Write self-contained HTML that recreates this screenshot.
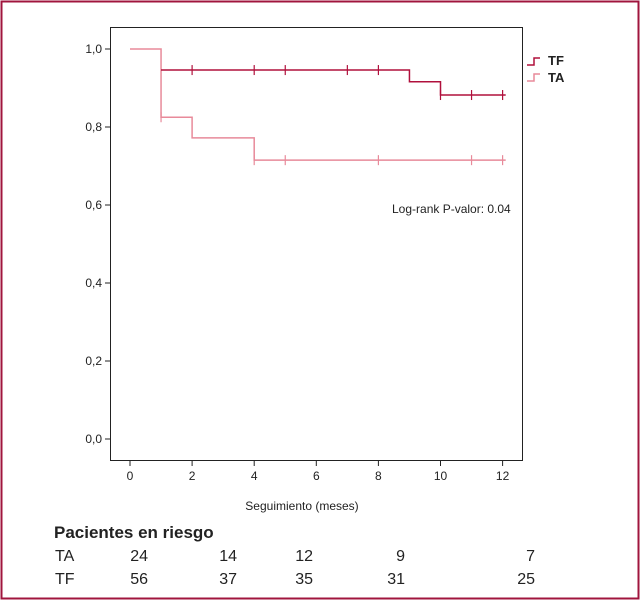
<!DOCTYPE html>
<html><head><meta charset="utf-8"><style>
body{margin:0;background:#fff;font-family:"Liberation Sans",sans-serif}
</style></head><body>
<svg width="641" height="608" xmlns="http://www.w3.org/2000/svg" font-family="Liberation Sans, sans-serif">
<rect x="1.5" y="1.5" width="637" height="597" fill="none" stroke="#a0153e" stroke-width="2"/>
<rect x="110.5" y="27.5" width="412" height="433" fill="none" stroke="#222" stroke-width="1"/>
<g id="axes"></g>
<g id="series"></g>
<text x="302" y="510" font-size="12" text-anchor="middle" fill="#222">Seguimiento (meses)</text>
<text x="392" y="213" font-size="12" fill="#222">Log-rank P-valor: 0.04</text>
<g>
<path d="M527 65 H534 V58 H540" fill="none" stroke="#b0103c" stroke-width="1.5"/>
<text x="548" y="65" font-size="13" font-weight="bold" fill="#222">TF</text>
<path d="M527 81 H534 V74 H540" fill="none" stroke="#e88a9a" stroke-width="1.5"/>
<text x="548" y="82" font-size="13" font-weight="bold" fill="#222">TA</text>
</g>
<text x="54" y="538" font-size="17" font-weight="bold" fill="#222">Pacientes en riesgo</text>
<g id="risk"></g>
</svg>
<script>
const xTicks=[0,2,4,6,8,10,12];
const yTicks=[0,0.2,0.4,0.6,0.8,1.0];
const yTickLabels=["0,0","0,2","0,4","0,6","0,8","1,0"];
const taTimes=[0,1,2,4,12.1];
const taSurv=[1.0,0.825,0.772,0.715,0.715];
const taCensor=[1,4,5,8,11,12];
const tfTimes=[1,9,10,12.1];
const tfSurv=[0.946,0.916,0.882,0.882];
const tfCensor=[2,4,5,7,8,10,11,12];
const riskRows=["TA","TF"];
const taRisk=["24","14","12","9","7"];
const tfRisk=["56","37","35","31","25"];
const riskX=[148,237,313,405,535];
const NS="http://www.w3.org/2000/svg";
const X=t=>130+t*31.05, Y=v=>439-v*390;
function mk(tag,attrs,parent,txt){const e=document.createElementNS(NS,tag);for(const k in attrs)e.setAttribute(k,attrs[k]);if(txt!==undefined)e.textContent=txt;parent.appendChild(e);return e;}
const axes=document.getElementById('axes');
xTicks.forEach(t=>{
 const l=mk('line',{x1:X(t),x2:X(t),y1:461,y2:466,stroke:'#222'},axes);
 
 
 const tx=mk('text',{x:X(t),y:480,'font-size':12,'text-anchor':'middle',fill:'#222'},axes,String(t));
 
 
});
yTicks.forEach((v,i)=>{
 const l=mk('line',{x1:105,x2:110,y1:Y(v),y2:Y(v),stroke:'#222'},axes);
 
 
 const tx=mk('text',{x:102,y:Y(v)+4,'font-size':12,'text-anchor':'end',fill:'#222'},axes,yTickLabels[i]);
 
 
});
const ser=document.getElementById('series');
function stepPath(times,surv){let d='M'+X(times[0])+' '+Y(surv[0]);for(let i=1;i<times.length;i++){d+=' H'+X(times[i])+' V'+Y(surv[i]);}return d;}
function survAt(times,surv,t){let s=surv[0];for(let i=0;i<times.length;i++){if(times[i]<=t)s=surv[i];}return s;}
function drawSeries(name,times,surv,cens,color){
 const p=mk('path',{d:stepPath(times,surv),fill:'none',stroke:color,'stroke-width':1.5},ser);
 
 
 cens.forEach(c=>{const y=Y(survAt(times,surv,c));
  const m=mk('line',{x1:X(c),x2:X(c),y1:y-5,y2:y+5,stroke:color,'stroke-width':1.2},ser);
  
  });
}
drawSeries('ta',taTimes,taSurv,taCensor,'#e88a9a');
drawSeries('tf',tfTimes,tfSurv,tfCensor,'#b0103c');
const risk=document.getElementById('risk');
[taRisk,tfRisk].forEach((row,r)=>{
 const y=561+r*23;
 const lb=mk('text',{x:55,y:y,'font-size':16,fill:'#222'},risk,riskRows[r]);
 
 
 row.forEach((v,i)=>{const t=mk('text',{x:riskX[i],y:y,'font-size':16,'text-anchor':'end',fill:'#222'},risk,v);
  
  });
});
</script>
</body></html>
